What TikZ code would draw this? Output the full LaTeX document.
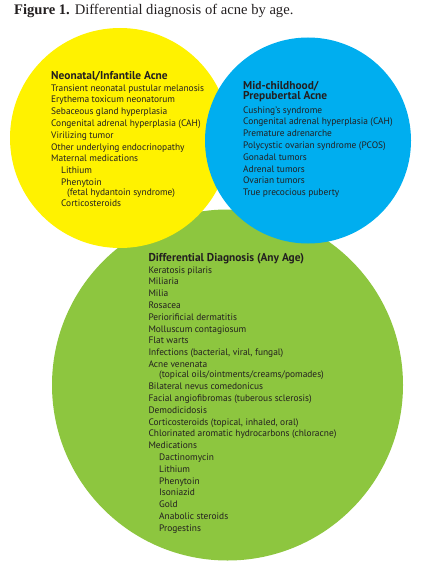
\documentclass[tikz,border=0pt]{standalone}
\usepackage{fontspec}
\setmainfont{Liberation Serif}
\newfontfamily\listfont{PT Sans}[BoldFont={PT Sans Bold}]
\definecolor{acneyellow}{HTML}{FFF200}
\definecolor{acneblue}{HTML}{00AEEF}
\definecolor{acnegreen}{HTML}{8DC63F}
\definecolor{acnetext}{HTML}{231F20}
\newcommand{\listhead}[1]{{\bfseries\fontsize{11.4}{11.8}\selectfont #1}}

\begin{document}
\begin{tikzpicture}[x=1pt, y=-1pt,
		list/.style={anchor=north west, inner sep=0pt, align=left, text=acnetext, font=\listfont\fontsize{9.4}{11.8}\selectfont}]
			\useasboundingbox	(0, 0) rectangle (422, 564);

			\fill[acnegreen]	(227.5, 385) circle[radius=175.5pt];
			\fill[acneyellow]	(120, 138) circle[radius=110pt];
			\fill[acneblue]		(308, 140.5) circle[radius=103pt];

			\node[anchor=base west, inner sep=0pt, text=acnetext, font=\fontsize{14.6}{17}\selectfont] (title) at (14, 15)
				{\textbf{Figure 1.} Differential diagnosis of acne by age.};

			\node[list] (neonatal) at (51, 71) {\listhead{Neonatal/Infantile Acne}\\
				Transient neonatal pustular melanosis\\
				Erythema toxicum neonatorum\\
				Sebaceous gland hyperplasia\\
				Congenital adrenal hyperplasia (CAH)\\
				Virilizing tumor\\
				Other underlying endocrinopathy\\
				Maternal medications\\
				\hspace*{10pt}Lithium\\
				\hspace*{10pt}Phenytoin\\[-1.6pt]
				\hspace*{16pt}(fetal hydantoin syndrome)\\[-0.7pt]
				\hspace*{10pt}Corticosteroids};

			\node[list] (prepubertal) at (243, 81) {\listhead{Mid-childhood/}\\[-1.3pt]
				\listhead{Prepubertal Acne}\\[1.5pt]
				Cushing’s syndrome\\
				Congenital adrenal hyperplasia (CAH)\\
				Premature adrenarche\\
				Polycystic ovarian syndrome (PCOS)\\
				Gonadal tumors\\
				Adrenal tumors\\
				Ovarian tumors\\
				True precocious puberty};

			\node[list] (anyage) at (148.3, 253) {\listhead{Differential Diagnosis (Any Age)}\\
				Keratosis pilaris\\
				Miliaria\\
				Milia\\
				Rosacea\\
				Periorificial dermatitis\\
				Molluscum contagiosum\\
				Flat warts\\
				Infections (bacterial, viral, fungal)\\
				Acne venenata\\[-1.4pt]
				\hspace*{10.7pt}(topical oils/ointments/creams/pomades)\\
				Bilateral nevus comedonicus\\
				Facial angiofibromas (tuberous sclerosis)\\
				Demodicidosis\\
				Corticosteroids (topical, inhaled, oral)\\
				Chlorinated aromatic hydrocarbons (chloracne)\\
				Medications\\
				\hspace*{10.7pt}Dactinomycin\\
				\hspace*{10.7pt}Lithium\\
				\hspace*{10.7pt}Phenytoin\\
				\hspace*{10.7pt}Isoniazid\\
				\hspace*{10.7pt}Gold\\
				\hspace*{10.7pt}Anabolic steroids\\
				\hspace*{10.7pt}Progestins};
		\end{tikzpicture}
\end{document}
